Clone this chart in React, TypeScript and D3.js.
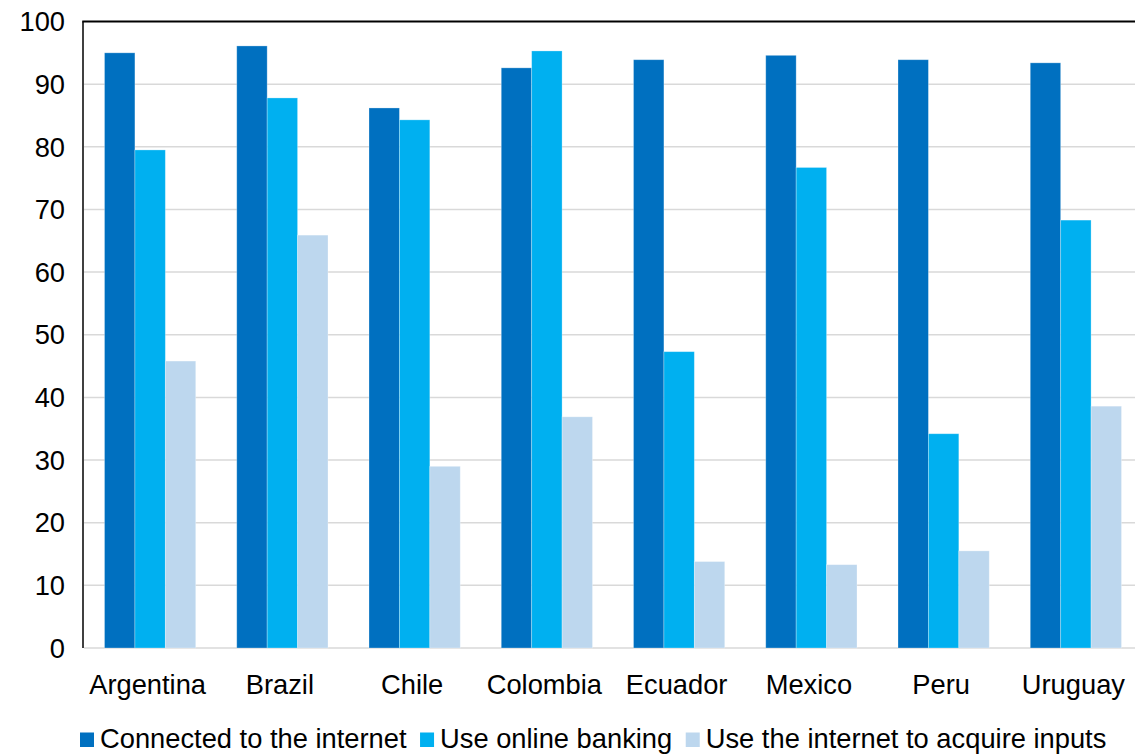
import React, { useEffect, useRef } from "react";
import * as d3 from "d3";

const categories = ["Argentina", "Brazil", "Chile", "Colombia", "Ecuador", "Mexico", "Peru", "Uruguay"];
const seriesNames = [
  "Connected to the internet",
  "Use online banking",
  "Use the internet to acquire inputs",
];
const connected = [95.0, 96.1, 86.2, 92.6, 93.9, 94.6, 93.9, 93.4];
const onlineBanking = [79.5, 87.8, 84.3, 95.3, 47.3, 76.7, 34.2, 68.3];
const acquireInputs = [45.8, 65.9, 29.0, 36.9, 13.8, 13.3, 15.5, 38.6];
const seriesColors = ["#0070C0", "#00B0F0", "#BDD7EE"];
const yTicks = [0, 10, 20, 30, 40, 50, 60, 70, 80, 90, 100];

const W = 1135;
const H = 756;
const FONT = "'Liberation Sans', Arial, sans-serif";
const FS = 27.3;

export default function App() {
  const ref = useRef<SVGSVGElement | null>(null);

  useEffect(() => {
    const svg = d3.select(ref.current);
    svg.selectAll("*").remove();

    const left = 84;
    const right = 1142;
    const top = 21.5;
    const bottom = 648;

    const x = d3.scaleBand<string>().domain(categories).range([left, right]).paddingInner(0.31).paddingOuter(0.155);
    const xs = d3.scaleBand<number>().domain([0, 1, 2]).range([0, x.bandwidth()]);
    const y = d3.scaleLinear().domain([0, 100]).range([bottom, top]);

    const series = [connected, onlineBanking, acquireInputs];

    // horizontal gridlines
    svg
      .append("g")
      .selectAll("line")
      .data(yTicks.filter((t) => t < 100))
      .join("line")
      .attr("x1", left)
      .attr("x2", W)
      .attr("y1", (d) => y(d))
      .attr("y2", (d) => y(d))
      .attr("stroke", "#d9d9d9")
      .attr("stroke-width", 1.5);

    // bars
    const groups = svg
      .append("g")
      .selectAll("g")
      .data(categories)
      .join("g")
      .attr("transform", (d) => `translate(${x(d)},0)`);

    groups
      .selectAll("rect")
      .data((_, i) => series.map((s, k) => ({ k, v: s[i] })))
      .join("rect")
      .attr("x", (d) => xs(d.k)!)
      .attr("width", xs.bandwidth())
      .attr("y", (d) => y(d.v))
      .attr("height", (d) => y(0) - y(d.v))
      .attr("fill", (d) => seriesColors[d.k])
      .attr("stroke", "rgba(255,255,255,0.35)")
      .attr("stroke-width", 0.8);

    // frame: left axis and top border
    svg
      .append("line")
      .attr("x1", left - 1)
      .attr("x2", left - 1)
      .attr("y1", top)
      .attr("y2", bottom)
      .attr("stroke", "#000")
      .attr("stroke-width", 1.5);
    svg
      .append("line")
      .attr("x1", left - 1.75)
      .attr("x2", W)
      .attr("y1", top)
      .attr("y2", top)
      .attr("stroke", "#000")
      .attr("stroke-width", 2);

    // y tick labels
    svg
      .append("g")
      .selectAll("text")
      .data(yTicks)
      .join("text")
      .attr("x", 65)
      .attr("y", (d) => y(d) + 9.7)
      .attr("text-anchor", "end")
      .attr("font-family", FONT)
      .attr("font-size", FS)
      .attr("fill", "#000")
      .text((d) => d);

    // category labels
    svg
      .append("g")
      .selectAll("text")
      .data(categories)
      .join("text")
      .attr("x", (d) => x(d)! + x.bandwidth() / 2 - 2.5)
      .attr("y", 694)
      .attr("text-anchor", "middle")
      .attr("font-family", FONT)
      .attr("font-size", FS)
      .attr("fill", "#000")
      .text((d) => d);

    // legend, laid out left to right
    const legend = svg.append("g");
    let cx = 80;
    seriesNames.forEach((name, k) => {
      legend
        .append("rect")
        .attr("x", cx)
        .attr("y", 732.5)
        .attr("width", 14)
        .attr("height", 14.5)
        .attr("fill", seriesColors[k]);
      const t = legend
        .append("text")
        .attr("x", cx + 20)
        .attr("y", 748)
        .attr("font-family", FONT)
        .attr("font-size", FS)
        .attr("fill", "#000")
        .text(name);
      const w = (t.node() as SVGTextElement).getComputedTextLength();
      cx = cx + 20 + w + 13.5;
    });
  }, []);

  return (
    <div style={{ position: "absolute", left: 0, top: 0, width: W, height: H, background: "#fff" }}>
      <svg ref={ref} width={W} height={H} style={{ display: "block" }} />
    </div>
  );
}
